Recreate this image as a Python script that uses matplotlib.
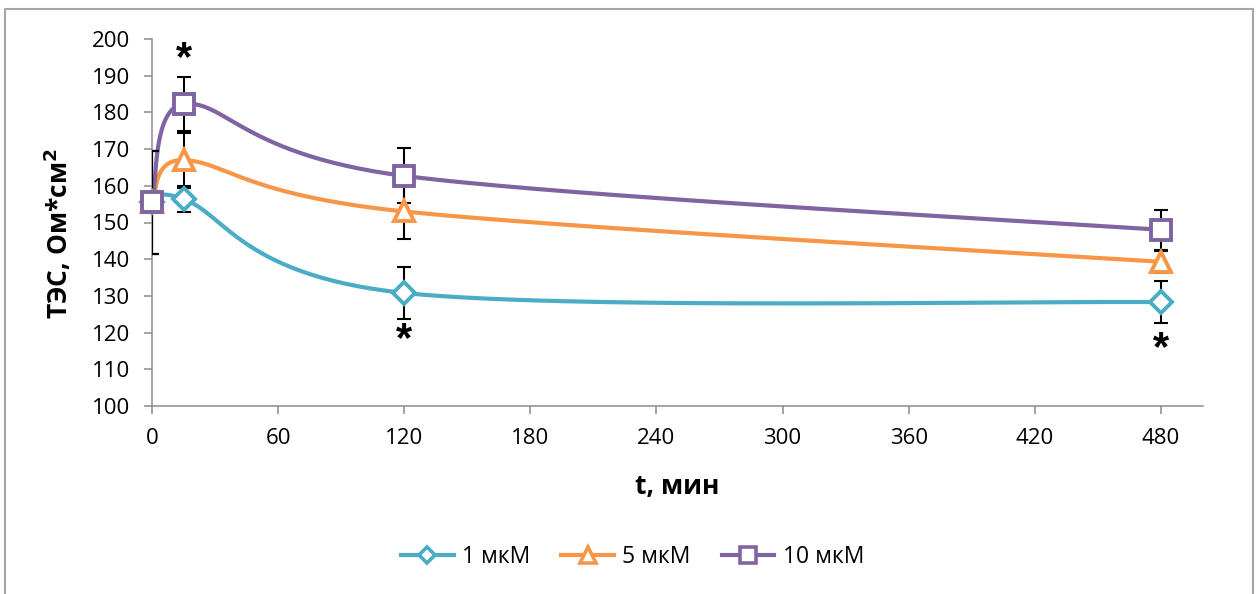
"""
ТЭС во времени для трёх концентраций (1, 5, 10 мкМ), сглаженные кривые как в Excel.
"""
import numpy as np
import matplotlib
matplotlib.use('Agg')
import matplotlib.pyplot as plt
from matplotlib.lines import Line2D
from matplotlib.patches import Rectangle

plt.rcParams['font.family'] = ['Open Sans', 'DejaVu Sans']

# --- Данные ---
t_min = [0, 15, 120, 480]
tes_1 = [155.5, 156.4, 130.8, 128.3]
err_1 = [14.0, 3.6, 7.0, 5.7]
tes_5 = [155.5, 167.0, 153.0, 139.3]
err_5 = [14.0, 7.5, 7.5, 3.0]
tes_10 = [155.5, 182.3, 162.7, 148.0]
err_10 = [14.0, 7.3, 7.5, 5.5]
series_names = ['1 мкМ', '5 мкМ', '10 мкМ']

# звёздочки значимости: (t, уровень)
star_t = [15, 120, 480]
star_y = [194.5, 118.0, 115.5]

COLORS = ['#4BACC6', '#F79646', '#8064A2']
MARKERS = ['D', '^', 's']
MSIZE = [11, 14, 15]


def excel_smooth(x, y, n=60):
    """Кубические Безье по точкам (касательные 1/6, ограничены по x)."""
    x = np.asarray(x, float)
    y = np.asarray(y, float)
    k = len(x)
    mx, my = np.zeros(k), np.zeros(k)
    for i in range(k):
        a, b = max(i - 1, 0), min(i + 1, k - 1)
        mx[i] = (x[b] - x[a]) / 6
        my[i] = (y[b] - y[a]) / 6
    xs, ys = [], []
    s = np.linspace(0, 1, n)
    for i in range(k - 1):
        dx = x[i + 1] - x[i]
        s1 = min(1.0, dx / mx[i]) if mx[i] > 0 else 1.0
        s2 = min(1.0, dx / mx[i + 1]) if mx[i + 1] > 0 else 1.0
        p0 = (x[i], y[i])
        p1 = (x[i] + mx[i] * s1, y[i] + my[i] * s1)
        p2 = (x[i + 1] - mx[i + 1] * s2, y[i + 1] - my[i + 1] * s2)
        p3 = (x[i + 1], y[i + 1])
        bx = ((1 - s) ** 3 * p0[0] + 3 * (1 - s) ** 2 * s * p1[0]
              + 3 * (1 - s) * s ** 2 * p2[0] + s ** 3 * p3[0])
        by = ((1 - s) ** 3 * p0[1] + 3 * (1 - s) ** 2 * s * p1[1]
              + 3 * (1 - s) * s ** 2 * p2[1] + s ** 3 * p3[1])
        xs.extend(bx)
        ys.extend(by)
    return np.array(xs), np.array(ys)


fig = plt.figure(figsize=(12.6, 5.94), dpi=100)
ax = fig.add_axes([152 / 1260, 1 - 406 / 594, 1051 / 1260, 367 / 594])

handles = []
for vals, errs, col, mk, ms, name in zip([tes_1, tes_5, tes_10], [err_1, err_5, err_10],
                                         COLORS, MARKERS, MSIZE, series_names):
    sx, sy = excel_smooth(t_min, vals)
    ax.plot(sx, sy, color=col, lw=3.0, zorder=2, solid_capstyle='round')
    ax.errorbar(t_min, vals, yerr=errs, fmt='none', ecolor='black', elinewidth=1.5,
                capsize=5, capthick=1.5, zorder=3)
    ax.plot(t_min, vals, ls='none', marker=mk, ms=ms, mfc='white', mec=col, mew=2.8,
            zorder=4, clip_on=False)
    handles.append(Line2D([0], [0], color=col, lw=3.0, marker=mk, ms=ms * 0.78,
                          mfc='white', mec=col, mew=2.6))

for xs_, ys_ in zip(star_t, star_y):
    ax.text(xs_, ys_, '*', ha='center', va='center', fontsize=30, fontweight='bold',
            family='Liberation Sans')

ax.set_xlim(0, 500)
ax.set_ylim(100, 200)
ax.set_xticks(range(0, 481, 60))
ax.set_yticks(range(100, 201, 10))
for side in ['top', 'right']:
    ax.spines[side].set_visible(False)
for side in ['left', 'bottom']:
    ax.spines[side].set_color('#8c8c8c')
    ax.spines[side].set_linewidth(1.1)
ax.tick_params(direction='out', length=6, width=1.1, color='#8c8c8c',
               labelsize=16, pad=10)

ax.set_xlabel('t, мин', fontsize=19, fontweight='bold')
ax.xaxis.set_label_coords(0.5, -0.22)
ax.xaxis.label.set_va('center')
ax.set_ylabel('ТЭС, Ом*см$^\\mathbf{2}$', fontsize=19, fontweight='bold')
ax.yaxis.set_label_coords(-0.089, 0.47)
ax.yaxis.label.set_va('center')

fig.legend(handles, series_names, loc='center', bbox_to_anchor=(0.502, 0.062),
           ncol=3, frameon=False, fontsize=16.5, handlelength=2.3,
           handletextpad=0.36, columnspacing=1.36)

fig.patches.append(Rectangle((5 / 1260, -0.02), 1248 / 1260, 1 + 0.02 - 9 / 594,
                             transform=fig.transFigure, fill=False,
                             edgecolor='#a6a6a6', lw=1.5))

plt.savefig('out.png', dpi=100, facecolor='white')
plt.close()
